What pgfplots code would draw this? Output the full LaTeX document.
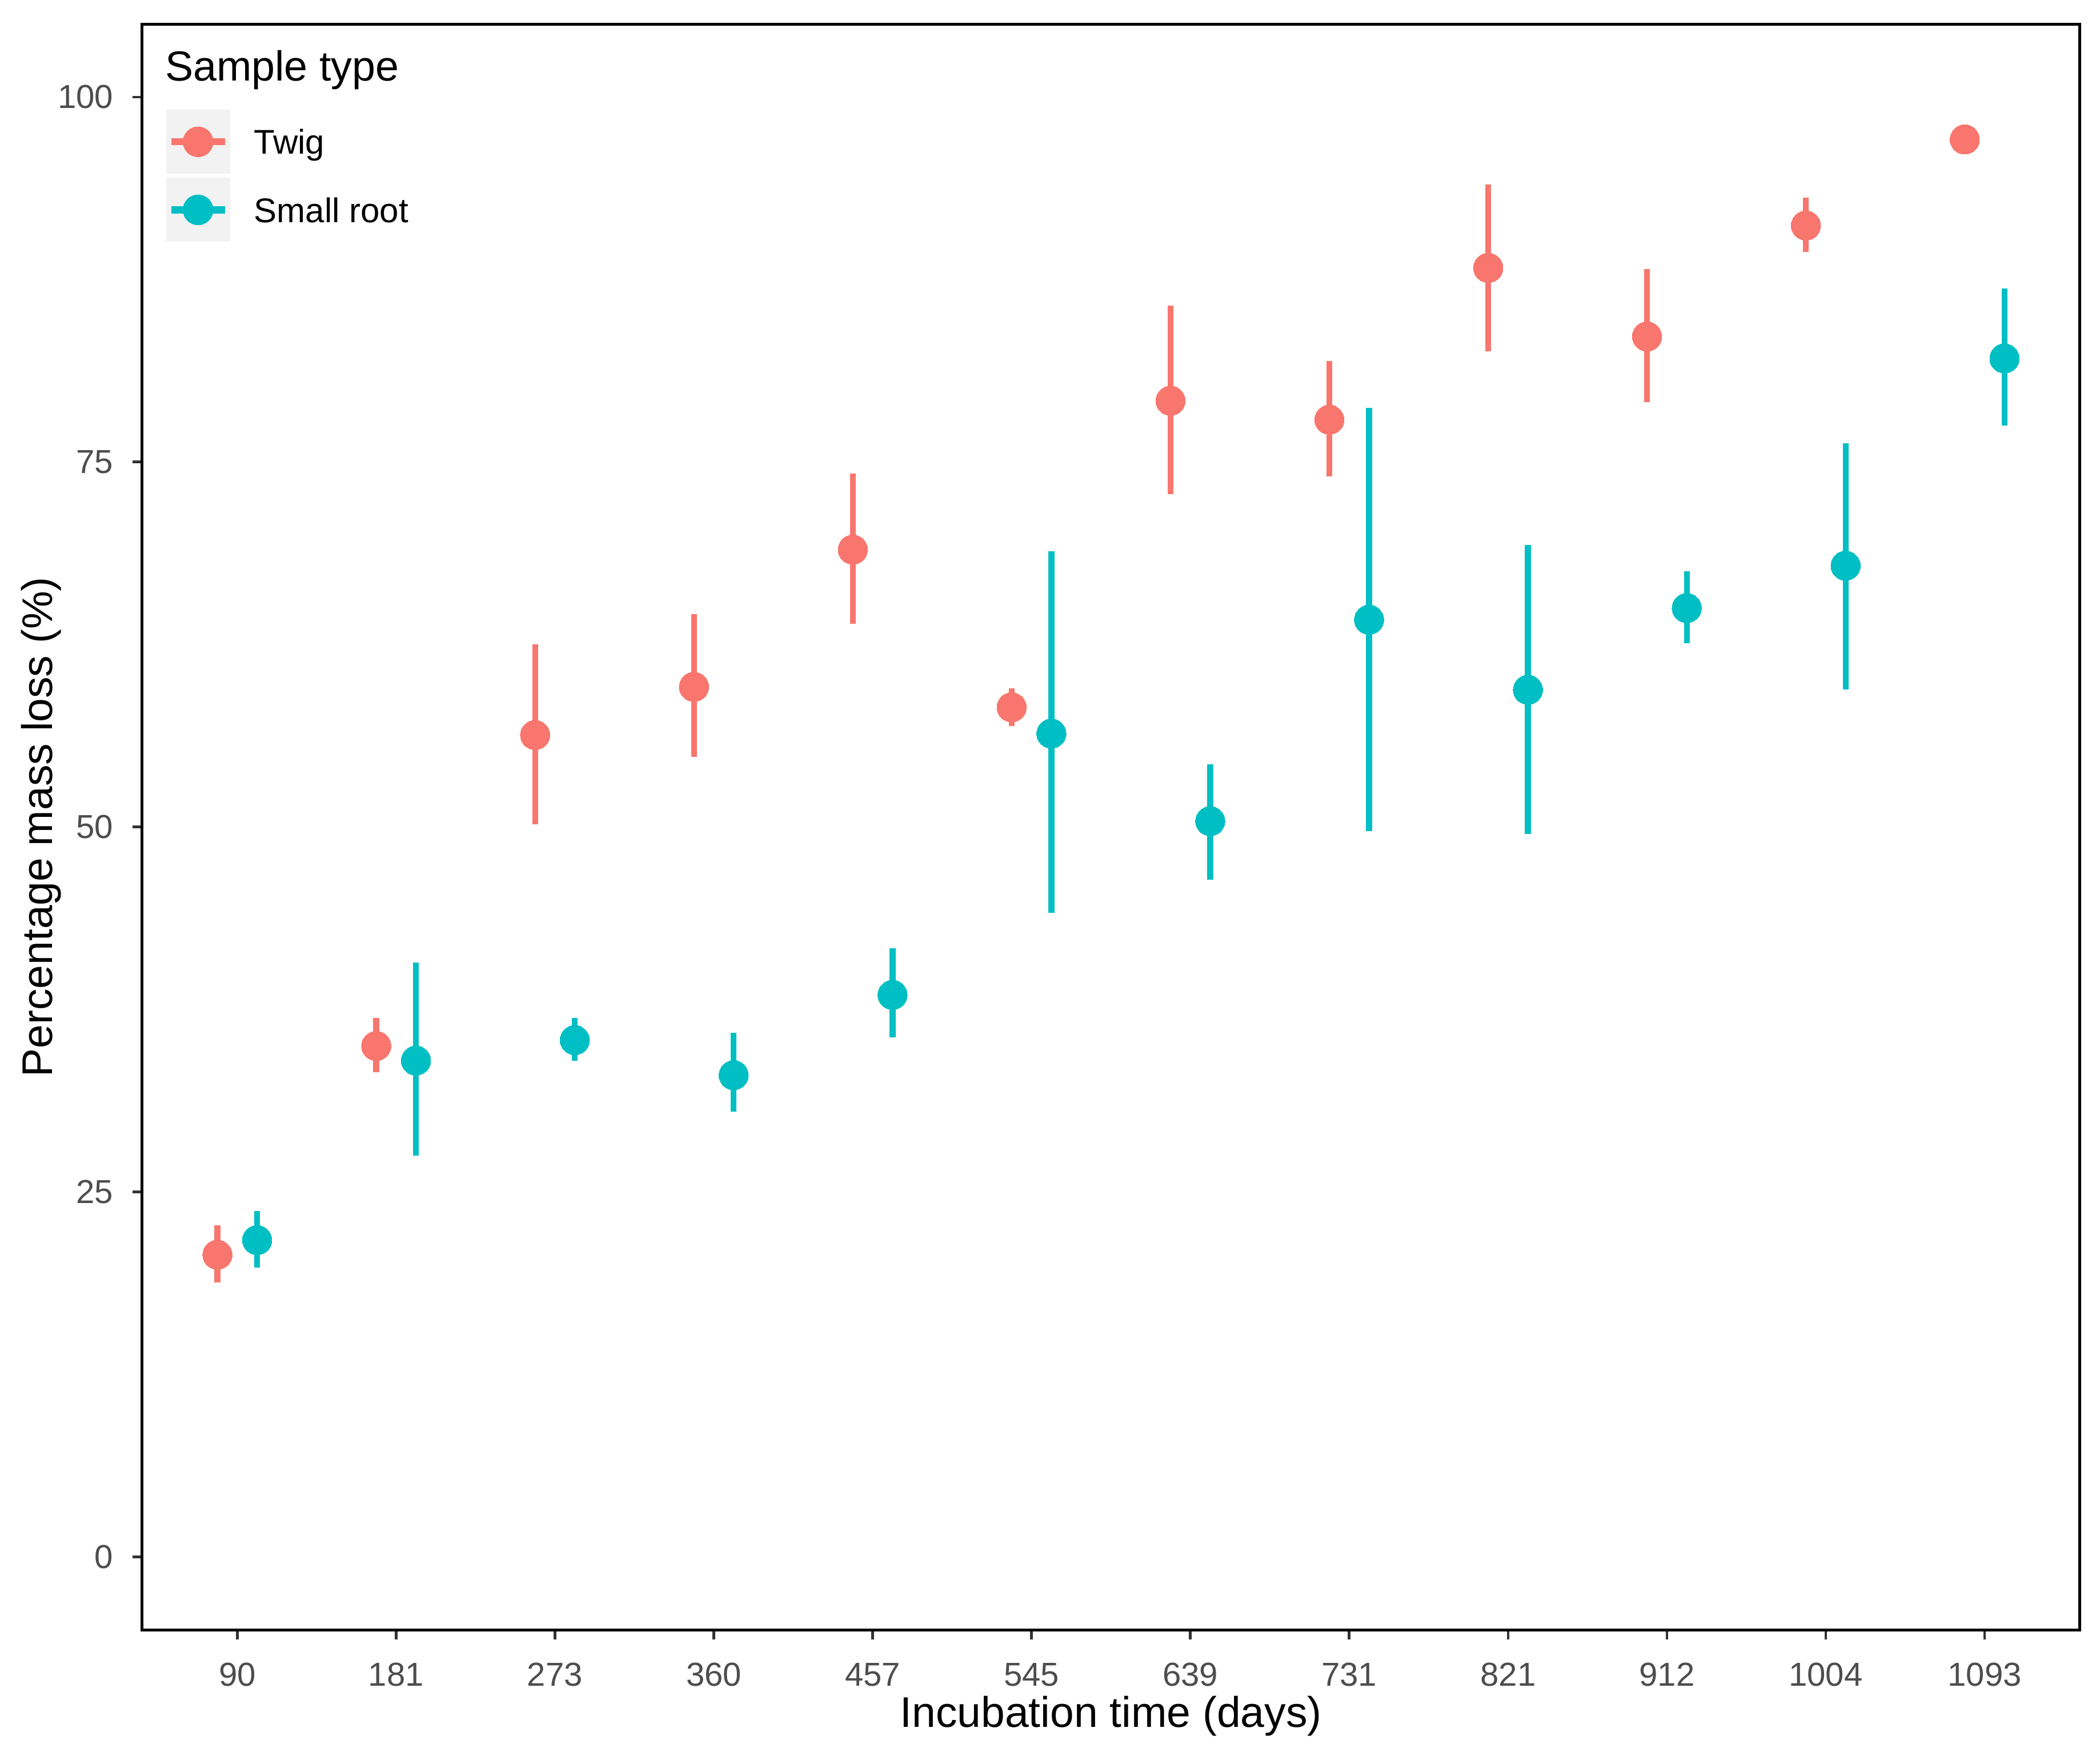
\documentclass[border=0pt]{standalone}
\usepackage{pgfplots}
\pgfplotsset{compat=1.18}
\usepackage{pgfplotstable}
\usepackage{fontspec}
\setmainfont{Liberation Sans}
\definecolor{twig}{HTML}{F8766D}
\definecolor{root}{HTML}{00BFC4}
\definecolor{tickgray}{HTML}{4D4D4D}
\definecolor{tickline}{HTML}{333333}
\definecolor{keybg}{HTML}{F2F2F2}

\pgfplotstableread{
x y lo hi
0.875 20.7 18.8 22.7
1.875 35.0 33.2 36.9
2.875 56.3 50.2 62.5
3.875 59.6 54.8 64.6
4.875 69.0 63.9 74.2
5.875 58.2 56.9 59.5
6.875 79.2 72.8 85.7
7.875 77.9 74.0 81.9
8.875 88.3 82.6 94.0
9.875 83.6 79.1 88.2
10.875 91.2 89.4 93.1
11.875 97.1 97.1 97.1
}\twigdata

\pgfplotstableread{
x y lo hi
1.125 21.7 19.8 23.7
2.125 34.0 27.5 40.7
3.125 35.4 34.0 36.9
4.125 33.0 30.5 35.9
5.125 38.5 35.6 41.7
6.125 56.4 44.1 68.9
7.125 50.4 46.4 54.3
8.125 64.2 49.7 78.7
9.125 59.4 49.5 69.3
10.125 65.0 62.6 67.5
11.125 67.9 59.4 76.3
12.125 82.1 77.5 86.9
}\rootdata

\begin{document}
\begin{tikzpicture}
\begin{axis}[
  name=ax,
  scale only axis,
  width=723.5pt, height=599.5pt,
  xmin=0.4, xmax=12.6,
  ymin=-5, ymax=105,
  xtick={1,...,12},
  xticklabels={90,181,273,360,457,545,639,731,821,912,1004,1093},
  ytick={0,25,50,75,100},
  axis line style={line width=1.1pt, black},
  tick align=outside,
  major tick length=3.5pt,
  tick style={line width=1pt, tickline},
  xtick pos=bottom, ytick pos=left,
  /pgf/number format/assume math mode=true,
  ticklabel style={font=\fontsize{12.4}{14}\selectfont, text=tickgray, inner sep=0pt},
  xticklabel style={anchor=base, yshift=-17.5pt},
  yticklabel style={anchor=east, xshift=-7pt},
  xlabel={Incubation time (days)},
  ylabel={Percentage mass loss (\%)},
  label style={font=\fontsize{16}{18}\selectfont, inner sep=0pt},
  xlabel style={at={(axis description cs:0.5,-0.0605)}, anchor=base},
  ylabel style={at={(axis description cs:-0.0463,0.5)}, anchor=base, rotate=0},
  legend style={at={(rel axis cs:0.01244,0.9466)}, anchor=north west,
    draw=none, fill=none, inner sep=0pt, outer sep=0pt, row sep=1.5pt,
    font=\fontsize{12.8}{14}\selectfont,
    nodes={inner sep=0pt, anchor=base west},
    /tikz/every odd column/.append style={column sep=9pt}},
  legend cell align=left,
  clip=false,
]
\addplot[draw=none, forget plot, mark=none,
  error bars/.cd, y dir=both, y explicit, error mark=none,
  error bar style={line width=2.2pt, twig, line cap=butt}]
  table[x=x, y=y, y error plus expr=\thisrow{hi}-\thisrow{y}, y error minus expr=\thisrow{y}-\thisrow{lo}] {\twigdata};
\addplot[only marks, mark=*, mark size=5.5pt, mark options={fill=twig, draw=twig, line width=0pt},
  legend image code/.code={
    \fill[keybg] (0pt,-7.15pt) rectangle (23.5pt,16.35pt);
    \draw[line width=2.6pt, twig] (1.75pt,4.6pt) -- (21.75pt,4.6pt);
    \fill[twig] (11.75pt,4.6pt) circle (5.5pt);
  }]
  table[x=x, y=y] {\twigdata};
\addlegendentry{Twig}
\addplot[draw=none, forget plot, mark=none,
  error bars/.cd, y dir=both, y explicit, error mark=none,
  error bar style={line width=2.2pt, root, line cap=butt}]
  table[x=x, y=y, y error plus expr=\thisrow{hi}-\thisrow{y}, y error minus expr=\thisrow{y}-\thisrow{lo}] {\rootdata};
\addplot[only marks, mark=*, mark size=5.5pt, mark options={fill=root, draw=root, line width=0pt},
  legend image code/.code={
    \fill[keybg] (0pt,-7.15pt) rectangle (23.5pt,16.35pt);
    \draw[line width=2.6pt, root] (1.75pt,4.6pt) -- (21.75pt,4.6pt);
    \fill[root] (11.75pt,4.6pt) circle (5.5pt);
  }]
  table[x=x, y=y] {\rootdata};
\addlegendentry{Small root}
\node[anchor=base west, inner sep=0pt, font=\fontsize{15.7}{18}\selectfont] at (rel axis cs:0.01175,0.9646) {Sample type};
\end{axis}
\pgfresetboundingbox
\path[use as bounding box] ([shift={(-53pt,-45.5pt)}]ax.south west) rectangle ([shift={(7.5pt,9pt)}]ax.north east);
\end{tikzpicture}
\end{document}
